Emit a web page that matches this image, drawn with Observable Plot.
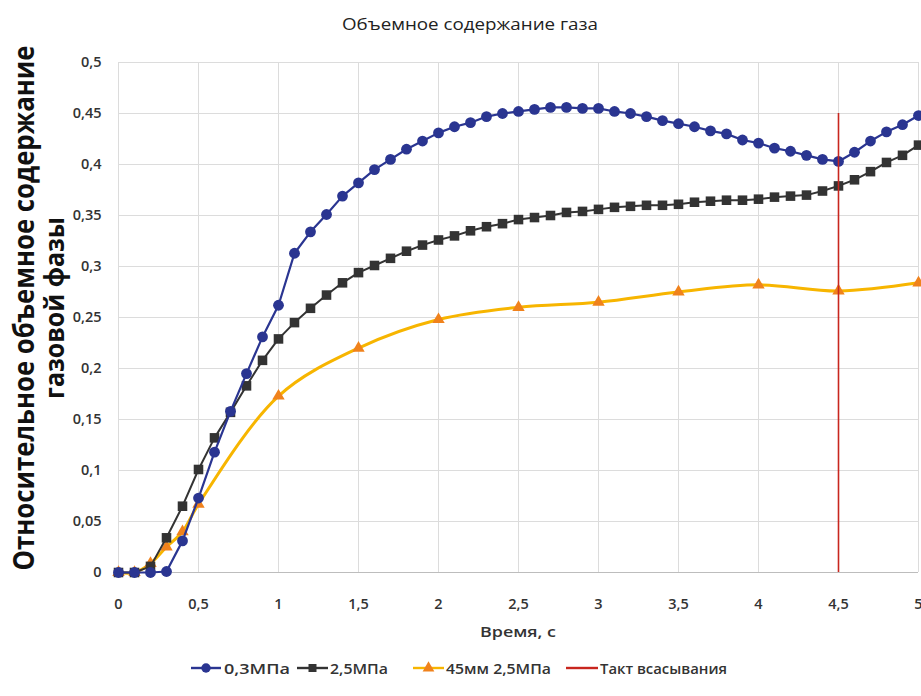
<!DOCTYPE html>
<html><head><meta charset="utf-8">
<script src="https://cdn.jsdelivr.net/npm/d3@7"></script>
<script src="https://cdn.jsdelivr.net/npm/@observablehq/plot@0.6"></script>
<style>
body{margin:0;background:#fff}
#chart{position:relative;width:921px;height:696px}
</style>
</head><body><div id="chart"></div>
<script>
const chartTitle = "Объемное содержание газа";
const yTitle = ["Относительное объемное содержание", "газовой фазы"];
const xTitle = "Время, с";
const seriesNames = ["0,3МПа", "2,5МПа", "45мм 2,5МПа", "Такт всасывания"];

const time = [0,0.1,0.2,0.3,0.4,0.5,0.6,0.7,0.8,0.9,1,1.1,1.2,1.3,1.4,1.5,1.6,1.7,1.8,1.9,2,2.1,2.2,2.3,2.4,2.5,2.6,2.7,2.8,2.9,3,3.1,3.2,3.3,3.4,3.5,3.6,3.7,3.8,3.9,4,4.1,4.2,4.3,4.4,4.5,4.6,4.7,4.8,4.9,5];
const p03 = [0,0,0,0.001,0.031,0.073,0.118,0.158,0.195,0.231,0.262,0.313,0.334,0.351,0.369,0.382,0.395,0.405,0.415,0.423,0.431,0.437,0.441,0.447,0.450,0.452,0.454,0.456,0.456,0.455,0.455,0.452,0.450,0.447,0.443,0.440,0.437,0.433,0.430,0.424,0.421,0.416,0.413,0.409,0.405,0.403,0.412,0.423,0.432,0.439,0.448];
const p25 = [0,0,0.006,0.034,0.065,0.101,0.132,0.157,0.183,0.208,0.229,0.245,0.259,0.272,0.284,0.294,0.301,0.308,0.315,0.321,0.326,0.330,0.335,0.339,0.342,0.346,0.348,0.350,0.353,0.354,0.356,0.358,0.359,0.360,0.360,0.361,0.363,0.364,0.365,0.365,0.366,0.368,0.369,0.370,0.374,0.379,0.385,0.393,0.402,0.409,0.419];
const time45 = [0,0.1,0.2,0.3,0.4,0.5,1,1.5,2,2.5,3,3.5,4,4.5,5];
const p45 = [0,0,0.009,0.025,0.040,0.067,0.173,0.220,0.248,0.260,0.265,0.275,0.282,0.276,0.284];
const strokeTime = [4.5];
const strokeTop = [0.45];
const xTicks = [0,0.5,1,1.5,2,2.5,3,3.5,4,4.5,5];
const yTicks = [0,0.05,0.1,0.15,0.2,0.25,0.3,0.35,0.4,0.45,0.5];

const colors = ["#2a3591", "#333333", "#f7b500", "#c8261e"];
const markerColor45 = "#f0821c";

const d03 = time.map((t,i)=>({t, v:p03[i]}));
const d25 = time.map((t,i)=>({t, v:p25[i]}));
const d45 = time45.map((t,i)=>({t, v:p45[i]}));
const dStroke = strokeTime.map((t,i)=>({t, top:strokeTop[i]}));

const fmt = d => String(d).replace(".", ",");
const font = "'Open Sans',sans-serif";

const plot = Plot.plot({
  width: 921, height: 696,
  marginTop: 62, marginBottom: 124, marginLeft: 118, marginRight: 3,
  style: {fontFamily: font, fontSize: "14.5px", fontWeight: "600", color: "#333", background: "#fff", overflow: "visible"},
  x: {domain: [0,5], ticks: xTicks, tickFormat: fmt, label: null},
  y: {domain: [0,0.5], ticks: yTicks, tickFormat: fmt, label: null},
  marks: [
    Plot.gridX(xTicks, {stroke: "#dcdcdc", strokeOpacity: 1}),
    Plot.gridY(yTicks, {stroke: "#dcdcdc", strokeOpacity: 1}),
    Plot.ruleY([0], {stroke: "#bdbdbd"}),
    Plot.axisX({ticks: xTicks, tickFormat: fmt, tickSize: 0, tickPadding: 26, label: null}),
    Plot.axisY({ticks: yTicks, tickFormat: fmt, tickSize: 0, tickPadding: 17, label: null}),
    Plot.line(d45, {x: "t", y: "v", stroke: colors[2], strokeWidth: 3, curve: "catmull-rom"}),
    Plot.dot(d45, {x: "t", y: "v", symbol: "triangle", fill: markerColor45, r: 4.6}),
    Plot.line(d25, {x: "t", y: "v", stroke: colors[1], strokeWidth: 2}),
    Plot.dot(d25, {x: "t", y: "v", symbol: "square", fill: colors[1], r: 5.4}),
    Plot.line(d03, {x: "t", y: "v", stroke: colors[0], strokeWidth: 2.2}),
    Plot.dot(d03, {x: "t", y: "v", symbol: "circle", fill: colors[0], r: 5.4}),
    Plot.ruleX(dStroke, {x: "t", y1: 0, y2: "top", stroke: colors[3], strokeWidth: 1.6})
  ]
});
document.getElementById("chart").appendChild(plot);

const svg = d3.select(plot);
// title
svg.append("text").attr("x", 470).attr("y", 30).attr("text-anchor", "middle")
  .attr("font-family", font).attr("font-size", 16).attr("font-weight", "500")
  .attr("fill", "#222").attr("textLength", 256).attr("lengthAdjust", "spacingAndGlyphs").text(chartTitle);
// y title
const yt = svg.append("g").attr("transform", "translate(0,308) rotate(-90)");
yt.append("text").attr("x", 0).attr("y", 34).attr("text-anchor", "middle")
  .attr("font-family", font).attr("font-size", 28).attr("font-weight", "bold")
  .attr("fill", "#111").attr("textLength", 525).attr("lengthAdjust", "spacingAndGlyphs").text(yTitle[0]);
yt.append("text").attr("x", 0).attr("y", 64).attr("text-anchor", "middle")
  .attr("font-family", font).attr("font-size", 26).attr("font-weight", "bold")
  .attr("fill", "#111").attr("textLength", 182).attr("lengthAdjust", "spacingAndGlyphs").text(yTitle[1]);
// x title
svg.append("text").attr("x", 518).attr("y", 637).attr("text-anchor", "middle")
  .attr("font-family", font).attr("font-size", 14).attr("font-weight", "600")
  .attr("fill", "#333").attr("textLength", 76).attr("lengthAdjust", "spacingAndGlyphs").text(xTitle);
// legend
const leg = svg.append("g").attr("font-family", font).attr("font-size", 15).attr("font-weight", "600")
  .attr("fill", "#333").attr("text-anchor", "start");
const items = [
  {x0: 191, x1: 221, tx: 224, w: 66, sym: d3.symbolCircle, col: colors[0], mcol: colors[0], size: 70},
  {x0: 297, x1: 328, tx: 330, w: 58, sym: d3.symbolSquare, col: colors[1], mcol: colors[1], size: 64},
  {x0: 413, x1: 444, tx: 446, w: 105, sym: d3.symbolTriangle, col: colors[2], mcol: markerColor45, size: 60},
  {x0: 566, x1: 598, tx: 600, w: 127, sym: null, col: colors[3]}
];
const ly = 668;
items.forEach((it, i) => {
  leg.append("line").attr("x1", it.x0).attr("x2", it.x1).attr("y1", ly).attr("y2", ly)
    .attr("stroke", it.col).attr("stroke-width", 2.4);
  if (it.sym) leg.append("path").attr("d", d3.symbol(it.sym, it.size)())
    .attr("transform", `translate(${(it.x0+it.x1)/2},${ly})`).attr("fill", it.mcol);
  leg.append("text").attr("x", it.tx).attr("y", ly + 5.5)
    .attr("textLength", it.w).attr("lengthAdjust", "spacingAndGlyphs").text(seriesNames[i]);
});
</script>
</body></html>
